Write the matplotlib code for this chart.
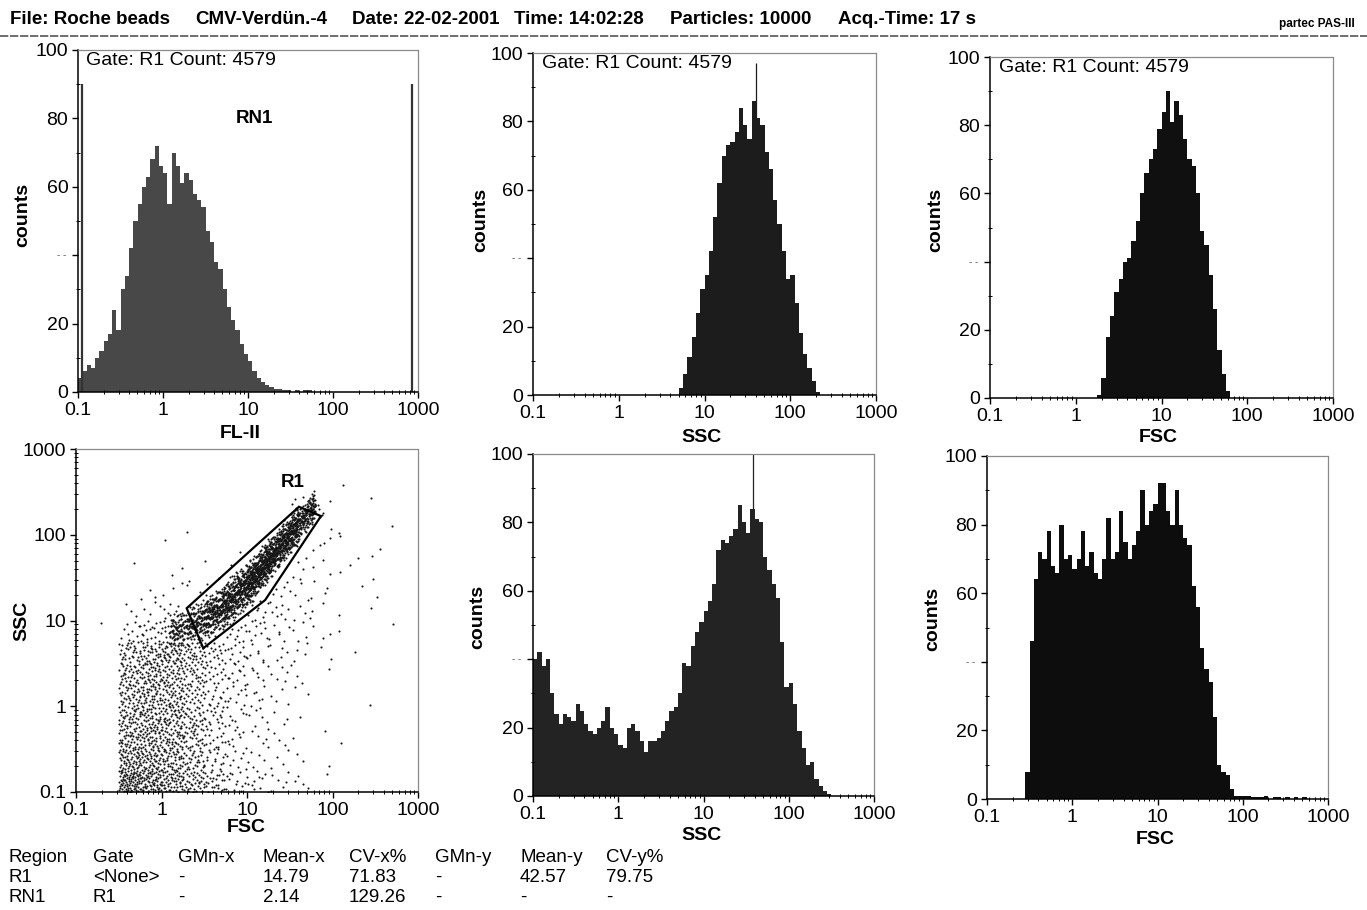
import numpy as np
import matplotlib.pyplot as plt
import matplotlib.transforms as mtransforms
from matplotlib.patches import Polygon
from matplotlib.lines import Line2D
from matplotlib.ticker import FixedLocator, NullFormatter, LogLocator

plt.rcParams['font.family'] = ['Liberation Sans', 'DejaVu Sans']
plt.rcParams['font.size'] = 14

W, H = 1367, 910

# ================= TEXT CONTENT =================
header_items = ['File: Roche beads', 'CMV-Verdün.-4', 'Date: 22-02-2001',
                'Time: 14:02:28', 'Particles: 10000', 'Acq.-Time: 17 s']
header_tag = 'partec PAS-III'
gate_text = 'Gate: R1 Count: 4579'

table_head = ['Region', 'Gate', 'GMn-x', 'Mean-x', 'CV-x%', 'GMn-y', 'Mean-y', 'CV-y%']
table_r1 = ['R1', '<None>', '-', '14.79', '71.83', '-', '42.57', '79.75']
table_rn1 = ['RN1', 'R1', '-', '2.14', '129.26', '-', '-', '-']

decades = [0.1, 1, 10, 100, 1000]
decade_labels = ['0.1', '1', '10', '100', '1000']
count_ticks = [0, 20, 40, 60, 80, 100]
count_labels = ['0', '20', '', '60', '80', '100']

# ================= HISTOGRAMS (20 channels per decade, channel 0 starts at 0.1) =================
fl2_first = 0
fl2_counts = [4, 6, 8, 7, 10, 12, 15, 17, 24, 18,
              30, 34, 42, 50, 55, 60, 63, 68, 72, 66,
              64, 55, 70, 66, 61, 64, 62, 58, 56, 54,
              47, 44, 38, 36, 30, 25, 21, 18, 14, 11,
              9, 6, 4, 3, 2, 1.5, 1, 0.8, 0.5, 0.5,
              0, 0.5, 0, 0.5, 0.5]
rn1_bounds = [0.112, 850]
rn1_height = 90

ssc_gated_first = 34
ssc_gated_counts = [2, 6, 11, 17, 24, 31, 35, 42, 52, 62,
                    70, 73, 74, 77, 84, 79, 75, 86, 81, 79,
                    71, 66, 57, 50, 42, 34, 35, 27, 18, 12,
                    8, 4, 1]
ssc_gated_spike_x = [40]
ssc_gated_spike_h = [97]

fsc_gated_first = 25
fsc_gated_counts = [1, 6, 18, 24, 31, 35, 40, 41, 46, 52,
                    60, 66, 70, 73, 79, 84, 90, 81, 87, 83,
                    76, 70, 68, 60, 49, 45, 36, 26, 14, 7, 2]

ssc_all_first = 0
ssc_all_counts = [40, 42, 38, 40, 30, 24, 21, 24, 23, 22,
                  27, 25, 21, 19, 18, 20, 22, 26, 20, 18,
                  15, 14, 20, 21, 19, 16, 13, 16, 16, 17,
                  19, 22, 25, 26, 30, 39, 38, 44, 48, 51,
                  54, 57, 62, 72, 75, 74, 76, 78, 85, 80,
                  77, 84, 81, 80, 70, 66, 62, 58, 45, 32,
                  33, 27, 19, 14, 9, 10, 5, 3, 1.5, 0.5]
ssc_all_spike_x = [38]
ssc_all_spike_h = [100]

fsc_all_first = 9
fsc_all_counts = [8, 46, 64, 72, 70, 78, 68, 66, 80, 70,
                  71, 67, 70, 78, 68, 72, 66, 64, 70, 82,
                  70, 72, 84, 75, 70, 74, 78, 90, 80, 84,
                  86, 92, 92, 84, 80, 90, 80, 76, 74, 62,
                  56, 44, 38, 34, 24, 10, 8, 7, 3, 1,
                  0.8, 1, 1, 0.7, 0.5, 0.5, 1, 0, 0.7, 0.5,
                  0, 0.5, 0, 0.5, 0, 0.5]

# ================= FSC / SSC DOT PLOT =================
# events per quarter-decade cell, rows from SSC 1000 (top) down to 0.1, columns FSC 0.1 -> 1000
ssc_fsc_cells = [
    [0, 0, 0, 0, 0, 0, 0, 0, 0, 0, 0, 0, 0, 0, 0, 0],
    [0, 0, 0, 0, 0, 0, 0, 0, 0, 0, 0, 0, 1, 0, 0, 0],
    [0, 0, 0, 0, 0, 0, 0, 0, 0, 0, 4, 5, 0, 1, 0, 0],
    [0, 0, 0, 0, 0, 1, 0, 0, 0, 1, 0, 4, 1, 0, 1, 0],
    [0, 0, 0, 0, 1, 0, 0, 1, 0, 0, 0, 4, 1, 1, 1, 0],
    [0, 0, 1, 0, 2, 0, 1, 2, 0, 0, 4, 3, 2, 1, 0, 0],
    [0, 0, 0, 2, 3, 3, 4, 0, 0, 5, 5, 3, 0, 2, 1, 0],
    [0, 0, 3, 5, 8, 0, 0, 0, 10, 8, 5, 2, 1, 1, 0, 0],
    [0, 1, 10, 18, 22, 0, 0, 12, 10, 6, 4, 3, 1, 0, 1, 0],
    [0, 0, 30, 38, 45, 32, 20, 12, 8, 5, 4, 2, 0, 1, 0, 0],
    [0, 0, 36, 42, 38, 27, 17, 11, 7, 5, 3, 1, 0, 0, 0, 0],
    [0, 0, 36, 42, 37, 26, 14, 10, 6, 4, 2, 0, 0, 1, 0, 0],
    [0, 0, 40, 45, 42, 30, 17, 9, 6, 3, 1, 0, 0, 0, 0, 0],
    [0, 0, 45, 46, 42, 30, 16, 9, 5, 4, 1, 1, 1, 0, 0, 0],
    [0, 0, 54, 50, 43, 30, 16, 8, 5, 4, 2, 1, 0, 0, 0, 0],
    [0, 0, 80, 64, 50, 38, 24, 13, 10, 6, 4, 1, 0, 0, 0, 0],
]
# bead population: centre line of the diagonal band and events per segment
band_fsc = [1.26, 2, 3.2, 5, 10, 20, 40, 63]
band_ssc = [7.6, 8.5, 10.5, 13.8, 26, 58, 132, 220]
band_counts = [90, 140, 220, 400, 500, 430, 160]
band_spread = [0.22, 0.25, 0.28, 0.29, 0.27, 0.25, 0.2]

r1_fsc = [1.97, 3.08, 16.3, 73.3, 40.5]
r1_ssc = [13.9, 4.75, 17.3, 165, 212]


def halton(i, b):
    f, r = 1.0, 0.0
    while i > 0:
        f /= b
        r += f * (i % b)
        i //= b
    return r


def px_rect(l, t, r, b):
    return [l / W, 1 - b / H, (r - l) / W, (b - t) / H]


def fig_text(x, y, s, **kw):
    fig.text(x / W, 1 - y / H, s, **kw)


def style_axes(ax, log_y=False):
    ax.set_xscale('log')
    ax.set_xlim(0.1, 1000)
    ax.xaxis.set_major_locator(FixedLocator(decades))
    ax.set_xticklabels(decade_labels)
    ax.xaxis.set_minor_locator(LogLocator(base=10, subs=np.arange(2, 10)))
    ax.xaxis.set_minor_formatter(NullFormatter())
    if log_y:
        ax.set_yscale('log')
        ax.set_ylim(0.1, 1000)
        ax.yaxis.set_major_locator(FixedLocator(decades))
        ax.set_yticklabels(decade_labels)
        ax.yaxis.set_minor_locator(LogLocator(base=10, subs=np.arange(2, 10)))
        ax.yaxis.set_minor_formatter(NullFormatter())
    else:
        ax.set_ylim(0, 100)
        ax.yaxis.set_major_locator(FixedLocator(count_ticks))
        ax.set_yticklabels(count_labels)
        ax.yaxis.set_minor_locator(FixedLocator([10, 30, 50, 70, 90]))
        trans = mtransforms.blended_transform_factory(ax.transAxes, ax.transData)
        ax.text(-0.035, 40, '- -', transform=trans, ha='right', va='center',
                fontsize=7, color='#555555')
    for side in ('top', 'right'):
        ax.spines[side].set_color('#8a8a8a')
        ax.spines[side].set_linewidth(0.9)
        ax.spines[side].set_linestyle((0, (1.5, 1)))
    for side in ('left', 'bottom'):
        ax.spines[side].set_color('black')
        ax.spines[side].set_linewidth(1.1)
    ax.tick_params(which='major', length=4, width=1, pad=3, labelsize=14, direction='out')
    ax.tick_params(which='minor', length=3, width=0.7, direction='inout')


def draw_hist(ax, first, counts, color):
    k = first + np.arange(len(counts) + 1)
    edges = 10 ** (-1 + k / 20)
    ax.stairs(counts, edges, fill=True, color=color, lw=0)


fig = plt.figure(figsize=(W / 100, H / 100), dpi=100)

# ================= HEADER =================
header_x = [10, 195, 352, 514, 670, 838]
for x, s in zip(header_x, header_items):
    fig_text(x, 20, s, fontsize=13.5, weight='bold', va='center', ha='left')
fig_text(1355, 24, header_tag, fontsize=8.5, weight='bold', va='center', ha='right')
fig.add_artist(Line2D([0, 1], [1 - 36 / H] * 2, transform=fig.transFigure,
                      color='#555555', lw=1.2, ls=(0, (5, 1))))

# ================= TOP ROW =================
ax1 = fig.add_axes(px_rect(78, 50, 418, 392))
draw_hist(ax1, fl2_first, fl2_counts, '#484848')
ax1.vlines(rn1_bounds, 0, rn1_height, color='#333333', lw=1.6)
ax1.text(12, 80, 'RN1', ha='center', va='center', fontsize=13.5, weight='bold')
style_axes(ax1)

ax2 = fig.add_axes(px_rect(533, 53, 876, 395))
draw_hist(ax2, ssc_gated_first, ssc_gated_counts, '#1c1c1c')
ax2.vlines(ssc_gated_spike_x, 0, ssc_gated_spike_h, color='#1c1c1c', lw=0.9)
style_axes(ax2)

ax3 = fig.add_axes(px_rect(990, 57, 1333, 398))
draw_hist(ax3, fsc_gated_first, fsc_gated_counts, '#101010')
style_axes(ax3)

for ax in (ax1, ax2, ax3):
    ax.text(0.025, 0.995, gate_text, transform=ax.transAxes, ha='left', va='top', fontsize=14)

# ================= BOTTOM ROW =================
ax4 = fig.add_axes(px_rect(76, 449, 418, 792))
dot_lx, dot_ly = [], []
idx = 1
for r, row in enumerate(ssc_fsc_cells):
    y0 = 3 - (r + 1) / 4
    for c, n in enumerate(row):
        x0 = -1 + c / 4
        for _ in range(n):
            dot_lx.append(x0 + 0.25 * halton(idx, 2))
            dot_ly.append(y0 + 0.25 * halton(idx, 3))
            idx += 1
for s, n in enumerate(band_counts):
    xa, xb = np.log10(band_fsc[s]), np.log10(band_fsc[s + 1])
    ya, yb = np.log10(band_ssc[s]), np.log10(band_ssc[s + 1])
    for _ in range(n):
        t = halton(idx, 2)
        u = halton(idx, 3) + halton(idx, 5) - 1
        dot_lx.append(xa + t * (xb - xa))
        dot_ly.append(ya + t * (yb - ya) + band_spread[s] * u)
        idx += 1
ax4.scatter(10 ** np.array(dot_lx), 10 ** np.array(dot_ly), s=2.3, c='#151515',
            lw=0, marker='o', zorder=2)
ax4.add_patch(Polygon(list(zip(r1_fsc, r1_ssc)), closed=True, fill=False,
                      ec='black', lw=1.6, zorder=3))
ax4.text(34.5, 412, 'R1', ha='center', va='center', fontsize=13.5, weight='bold')
style_axes(ax4, log_y=True)

ax5 = fig.add_axes(px_rect(533, 454, 874, 796))
draw_hist(ax5, ssc_all_first, ssc_all_counts, '#232323')
ax5.vlines(ssc_all_spike_x, 0, ssc_all_spike_h, color='#232323', lw=0.9)
style_axes(ax5)

ax6 = fig.add_axes(px_rect(987, 456, 1328, 799))
draw_hist(ax6, fsc_all_first, fsc_all_counts, '#0d0d0d')
style_axes(ax6)

# ================= AXIS LABELS =================
lab = dict(fontsize=14, weight='bold', ha='center', va='center')
fig_text(23, 215, 'counts', rotation=90, **lab)
fig_text(240, 433, 'FL-II', **lab)
fig_text(481, 220, 'counts', rotation=90, **lab)
fig_text(702, 437, 'SSC', **lab)
fig_text(936, 220, 'counts', rotation=90, **lab)
fig_text(1158, 437, 'FSC', **lab)
fig_text(22, 621, 'SSC', rotation=90, **lab)
fig_text(246, 828, 'FSC', **lab)
fig_text(478, 617, 'counts', rotation=90, **lab)
fig_text(702, 836, 'SSC', **lab)
fig_text(933, 619, 'counts', rotation=90, **lab)
fig_text(1155, 839, 'FSC', **lab)

# ================= STATISTICS TABLE =================
col_x = [8, 93, 178, 263, 349, 435, 520, 606]
row_y = [857, 877, 897]
for y, row in zip(row_y, [table_head, table_r1, table_rn1]):
    for x, s in zip(col_x, row):
        fig_text(x, y, s, fontsize=13.5, ha='left', va='center')

fig.savefig('out.png', dpi=100)
